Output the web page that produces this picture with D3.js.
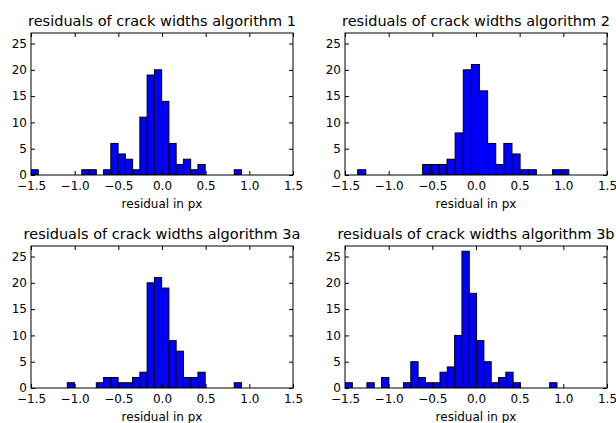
<!DOCTYPE html>
<html>
<head>
<meta charset="utf-8">
<script src="https://cdn.jsdelivr.net/npm/d3@7"></script>
<style>
  body { margin: 0; background: #fff; }
  svg { display: block; font-family: "DejaVu Sans", sans-serif; }
</style>
</head>
<body>
<svg width="616" height="423"></svg>
<script>
// histogram bins: first edge, bin width, counts per bin
const titles = [
  "residuals of crack widths algorithm 1",
  "residuals of crack widths algorithm 2",
  "residuals of crack widths algorithm 3a",
  "residuals of crack widths algorithm 3b"
];
const bin_starts = [-1.5, -1.355, -1.5, -1.5];
const bin_widths = [0.0831, 0.0930, 0.0831, 0.0837];

const counts_1  = [1,0,0,0,0,0,0,1,1,0,1,6,4,3,1,11,19,20,14,6,2,3,1,2,0,0,0,0,1];
const counts_2  = [1,0,0,0,0,0,0,0,2,2,2,3,8,20,21,16,6,2,6,4,1,1,0,0,1,1];
const counts_3a = [0,0,0,0,0,1,0,0,0,1,2,2,1,1,2,3,20,21,19,9,7,2,2,3,0,0,0,0,1];
const counts_3b = [1,0,0,1,0,2,0,0,1,5,2,1,1,3,4,10,26,18,9,5,1,2,3,1,0,0,0,0,1];
const all_counts = [counts_1, counts_2, counts_3a, counts_3b];

const x_ticks = [-1.5, -1.0, -0.5, 0.0, 0.5, 1.0, 1.5];
const y_ticks = [0, 5, 10, 15, 20, 25];
const x_domain = [-1.5, 1.5];
const y_domain = [0, 27];
const x_label = "residual in px";

function main(){
  const svg = d3.select("svg");
  const cols = [31, 345];
  const rows = [33, 246];
  const w = 262, h = 142;

  titles.forEach((t, i) => {
    const left = cols[i % 2];
    const top = rows[Math.floor(i / 2)];
    render_panel(svg, i, t, left, top, w, h);
  });
};

function render_panel(svg, idx, title, left, top, w, h){
  const g = svg.append("g").attr("transform", `translate(${left},${top})`);
  const xScale = d3.scaleLinear().domain(x_domain).range([0, w]);
  const yScale = d3.scaleLinear().domain(y_domain).range([h, 0]);

  // bins -> rect data
  const bins = all_counts[idx].map((c, i) => {
    const x0 = bin_starts[idx] + i * bin_widths[idx];
    return {x0: x0, x1: x0 + bin_widths[idx], n: c};
  }).filter(d => d.n > 0);

  g.append("clipPath").attr("id", "clip" + idx)
    .append("rect").attr("width", w).attr("height", h);

  g.append("g").attr("clip-path", `url(#clip${idx})`)
    .selectAll("rect").data(bins).enter().append("rect")
    .attr("x", d => xScale(d.x0))
    .attr("y", d => yScale(d.n))
    .attr("width", d => xScale(d.x1) - xScale(d.x0))
    .attr("height", d => yScale(0) - yScale(d.n))
    .attr("fill", "#0000ff")
    .attr("stroke", "#000")
    .attr("stroke-width", 1);

  const fmt = d3.format(".1f");
  const xAxis = d3.axisBottom(xScale).tickValues(x_ticks).tickFormat(fmt).tickSizeInner(-4).tickSizeOuter(0).tickPadding(6);
  const xTop = d3.axisTop(xScale).tickValues(x_ticks).tickFormat("").tickSizeInner(-4).tickSizeOuter(0);
  const yAxis = d3.axisLeft(yScale).tickValues(y_ticks).tickSizeInner(-4).tickSizeOuter(0).tickPadding(4);
  const yRight = d3.axisRight(yScale).tickValues(y_ticks).tickFormat("").tickSizeInner(-4).tickSizeOuter(0);

  const axes = [
    g.append("g").attr("transform", `translate(0,${h})`).call(xAxis),
    g.append("g").call(xTop),
    g.append("g").call(yAxis),
    g.append("g").attr("transform", `translate(${w},0)`).call(yRight)
  ];
  axes.forEach(a => {
    a.select(".domain").remove();
    a.selectAll("line").attr("stroke", "#000");
    a.selectAll("text").attr("fill", "#000").style("font-size", "12px").style("font-family", "DejaVu Sans");
  });

  g.append("rect").attr("width", w).attr("height", h)
    .attr("fill", "none").attr("stroke", "#000").attr("stroke-width", 1);

  g.append("text").attr("x", w / 2).attr("y", -7)
    .attr("text-anchor", "middle").style("font-size", "14.5px")
    .text(title);

  g.append("text").attr("x", w / 2).attr("y", h + 33)
    .attr("text-anchor", "middle").style("font-size", "12px")
    .text(x_label);
};

main();
</script>
</body>
</html>
